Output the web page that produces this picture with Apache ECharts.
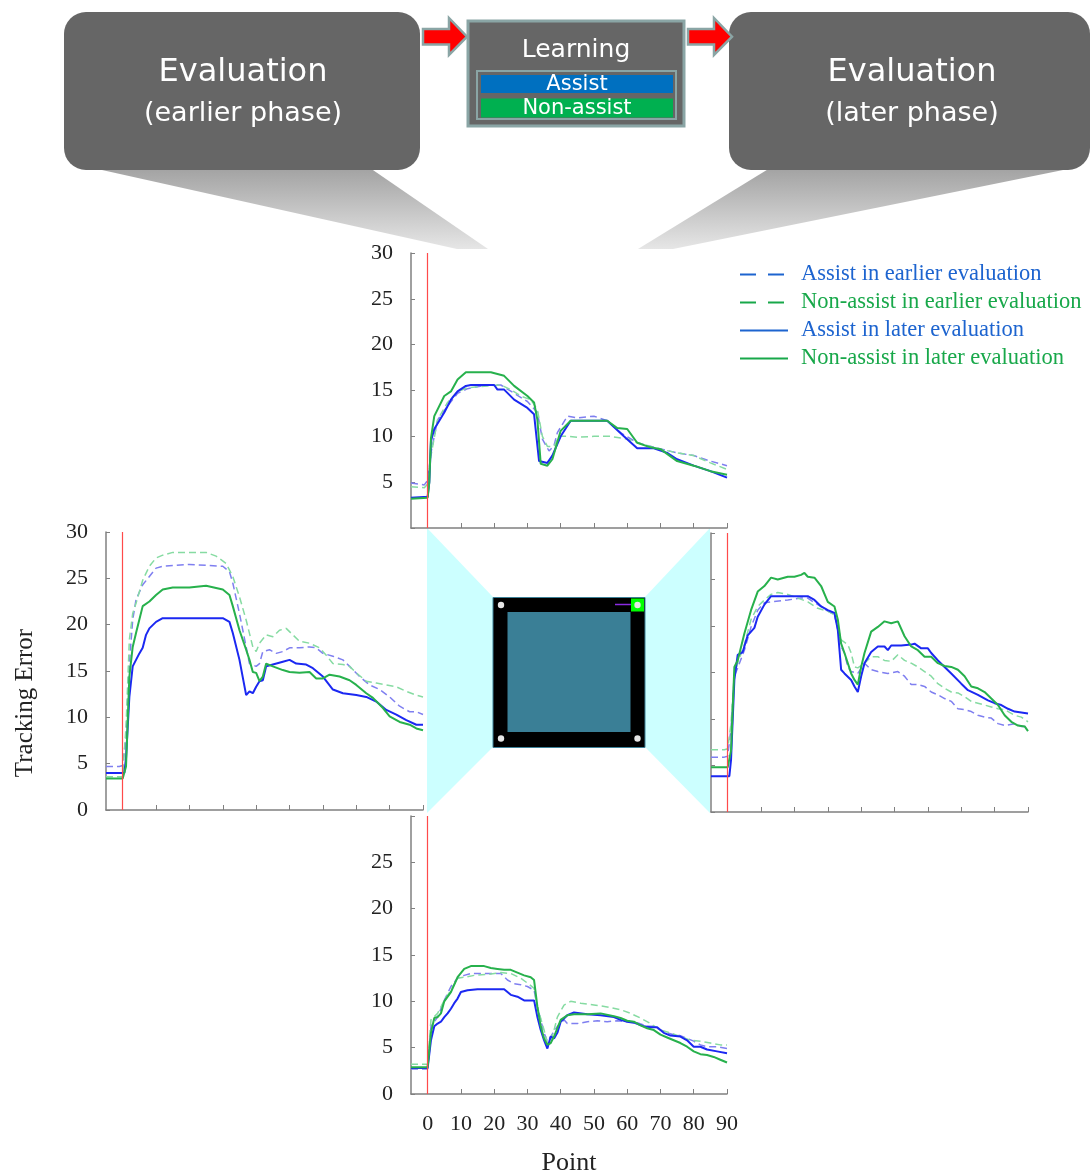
<!DOCTYPE html>
<html>
<head>
<meta charset="utf-8">
<script src="https://cdn.jsdelivr.net/npm/echarts@6.0.0/dist/echarts.min.js"></script>
<style>
  html, body { margin: 0; padding: 0; background: #fff; }
  #main { width: 1090px; height: 1173px; }
</style>
</head>
<body>
<div id="main"></div>
<script>
// x ticks / labels
const xTickValues = [0, 10, 20, 30, 40, 50, 60, 70, 80, 90];
const yTickValues = [0, 5, 10, 15, 20, 25, 30];
const seriesNames = [
  'Assist in earlier evaluation',
  'Non-assist in earlier evaluation',
  'Assist in later evaluation',
  'Non-assist in later evaluation'
];

// ---- top chart ----
const topAssistEarly = [[-5,4.9],[-1,4.7],[0,5.2],[1,8.2],[3,11.8],[6,13.3],[9,14.7],[12,15.2],[18,15.6],[22,15.6],[26,14.7],[30,13.8],[33,12.6],[34.5,9.7],[36.5,8.4],[38,9.0],[39,10.4],[42,12.2],[45,12.0],[50,12.2],[54,11.7],[58,10.4],[63,9.3],[68,8.8],[75,8.2],[80,7.9],[85,7.3],[90,6.8]];
const topNonAssistEarly = [[-5,4.5],[-1,4.4],[0,4.8],[1,7.9],[3,11.8],[6,13.7],[9,14.9],[12,15.3],[18,15.5],[22,15.6],[25,15.1],[28,14.4],[31,14.0],[33,12.9],[34.5,10.0],[36,8.9],[38,8.9],[39.5,10.0],[42,10.0],[45,9.9],[50,10.0],[55,10.0],[60,9.7],[65,9.1],[70,8.6],[75,8.2],[80,7.9],[85,7.1],[90,6.4]];
const topAssistLate = [[-5,3.3],[0,3.4],[0.5,5.0],[1,9.5],[2,10.8],[5,12.6],[7,14.0],[9,14.9],[11.5,15.5],[13,15.6],[20,15.6],[21,15.1],[23,15.1],[26,14.0],[30,13.1],[32,12.4],[33.5,7.3],[36,7.1],[37.5,7.9],[40,10.0],[43,11.7],[54,11.7],[59,10.0],[63,8.7],[68,8.7],[72,8.2],[75,7.5],[80,6.8],[85,6.2],[90,5.5]];
const topNonAssistLate = [[-5,3.2],[0,3.3],[0.5,5.0],[1,9.8],[2,12.2],[5,14.4],[7,14.9],[9,16.2],[11.5,17.0],[19,17.0],[23,16.6],[26,15.5],[30,14.4],[32,13.7],[33,11.8],[34,7.0],[36,6.8],[37.5,7.5],[40,10.6],[43,11.7],[54,11.7],[57,10.9],[60,10.8],[63,9.3],[67,8.8],[70,8.6],[75,7.3],[80,6.8],[85,6.2],[90,5.8]];

// ---- left chart ----
const leftAssistEarly = [[-5,4.7],[-1,4.7],[0,4.8],[1,8.0],[2,15.8],[3,20.5],[4,22.7],[6,24.3],[8,25.2],[10,26.1],[12,26.3],[20,26.5],[25,26.4],[30,26.3],[32,25.7],[33,24.5],[35,21.2],[37,17.6],[38,15.8],[40,15.5],[41,15.8],[42,17.1],[44,17.3],[46,16.9],[48,17.1],[50,17.5],[53,17.5],[56,17.6],[58,17.5],[60,16.9],[63,16.6],[66,16.2],[68,15.5],[71,14.4],[74,13.5],[77,13.0],[80,12.2],[83,11.2],[86,10.6],[88,10.6],[90,10.3]];
const leftNonAssistEarly = [[-5,3.6],[0,3.6],[1,9.0],[2,18.4],[3,21.2],[4,22.3],[6,24.8],[8,26.3],[10,27.2],[12,27.5],[15,27.8],[25,27.8],[28,27.4],[31,26.6],[33,25.2],[35,23.0],[37,20.5],[39,17.6],[40,17.1],[41,18.0],[43,18.9],[45,18.7],[47,19.4],[49,19.6],[51,18.9],[53,18.2],[56,18.0],[59,17.5],[61,16.7],[63,15.8],[66,15.7],[68,15.5],[70,14.8],[73,13.9],[76,13.7],[79,13.5],[82,13.3],[85,12.8],[88,12.4],[90,12.2]];
const leftAssistLate = [[-5,4.0],[0.5,4.0],[1,5.6],[2,12.2],[3,15.5],[5,16.9],[6,17.5],[7,18.9],[8,19.6],[10,20.3],[12,20.7],[30,20.7],[32,20.3],[33,19.1],[35,16.2],[37,12.4],[38,12.8],[39,12.6],[40,13.3],[41,13.9],[42,14.0],[43,15.5],[45,15.7],[48,16.0],[50,16.2],[52,15.8],[55,15.7],[57,15.3],[60,14.4],[63,13.0],[66,12.6],[70,12.4],[73,12.2],[76,11.7],[79,10.8],[82,10.3],[85,9.7],[88,9.2],[90,9.2]];
const leftNonAssistLate = [[-5,3.4],[0,3.4],[1,4.7],[2,14.4],[3,17.6],[4,19.1],[6,22.0],[8,22.5],[10,23.2],[12,23.8],[15,24.0],[20,24.0],[25,24.2],[30,23.8],[32,23.2],[33,22.0],[35,19.4],[37,17.3],[38,16.2],[39,14.9],[40,14.8],[41,13.9],[42,14.4],[43,15.8],[45,15.5],[48,15.1],[50,14.9],[53,14.8],[56,14.9],[58,14.2],[60,14.2],[62,14.6],[65,14.4],[68,14.0],[70,13.5],[73,12.6],[75,12.1],[78,11.0],[80,10.1],[83,9.5],[86,9.2],[88,8.8],[90,8.6]];

// ---- right chart ----
const rightAssistEarly = [[-5,5.9],[-1,5.9],[0,6.0],[1,9.0],[2,14.6],[3,15.5],[5,17.4],[7,19.9],[9,21.7],[11,22.5],[13,22.6],[18,22.8],[22,23.0],[24,23.0],[26,22.5],[28,22.1],[30,21.6],[32,21.2],[33,19.6],[34,17.8],[35,17.1],[36,15.6],[37,15.1],[39,14.9],[41,16.0],[43,15.3],[45,15.1],[48,14.9],[51,15.1],[53,14.6],[55,13.7],[57,13.7],[59,13.5],[61,12.9],[63,12.6],[65,12.2],[67,11.9],[69,11.1],[71,11.0],[73,10.8],[75,10.4],[77,10.2],[79,10.1],[81,9.5],[83,9.3],[86,9.5],[88,9.2],[90,9.2]];
const rightNonAssistEarly = [[-5,6.7],[-1,6.7],[0,6.8],[1,9.5],[2,14.9],[3,16.0],[5,18.0],[7,20.7],[9,22.1],[11,22.8],[13,23.4],[15,23.6],[18,23.4],[21,23.0],[24,22.6],[27,21.9],[30,21.6],[32,21.2],[33,19.9],[34,18.5],[36,18.0],[37,17.1],[38,15.6],[39,15.5],[41,16.0],[43,16.7],[45,16.7],[47,16.3],[49,16.2],[51,16.9],[53,16.3],[55,16.0],[57,15.6],[59,15.1],[61,14.6],[63,13.8],[65,13.3],[67,12.9],[69,12.8],[71,12.4],[73,11.9],[75,11.7],[77,11.5],[79,11.3],[81,11.1],[83,11.0],[86,10.4],[88,10.2],[90,9.7]];
const rightAssistLate = [[-5,3.85],[0.5,3.85],[1,5.6],[2,14.2],[3,16.9],[4.5,17.2],[6,19.0],[8,19.8],[9,21.0],[11,22.3],[13,23.2],[24,23.2],[26,22.8],[28,22.1],[30,21.7],[32,21.4],[33,19.6],[34,15.3],[35,14.9],[37,14.2],[38,13.5],[39,12.9],[40,14.6],[41,16.0],[43,17.2],[45,17.8],[47,17.8],[48,17.4],[49,17.9],[52,17.9],[55,18.0],[56,18.1],[58,17.6],[60,17.6],[61,17.1],[63,16.3],[65,15.6],[67,14.9],[70,13.8],[72,13.1],[75,12.6],[78,12.0],[80,11.7],[82,11.5],[84,11.1],[86,10.8],[88,10.7],[90,10.6]];
const rightNonAssistLate = [[-5,4.8],[0,4.8],[1,6.6],[2,15.6],[3,16.3],[5,19.2],[7,21.7],[9,23.7],[11,24.3],[13,25.2],[15,25.0],[18,25.3],[20,25.3],[22,25.5],[23,25.7],[24,25.3],[26,25.2],[28,24.3],[30,22.6],[32,22.1],[33,20.7],[34,18.1],[35,17.1],[37,14.9],[38,14.2],[39,13.7],[40,15.6],[41,17.1],[43,19.4],[45,19.9],[47,20.5],[49,20.3],[51,20.5],[53,18.9],[55,17.8],[57,17.4],[59,16.7],[61,16.7],[63,16.0],[65,15.7],[67,15.6],[69,15.3],[71,14.6],[73,13.5],[75,13.3],[77,12.9],[79,12.2],[81,11.5],[83,10.4],[85,9.7],[87,9.3],[89,9.2],[90,8.7]];

// ---- bottom chart ----
const bottomAssistEarly = [[-5,2.7],[0,2.7],[1,7.3],[3,8.3],[5,10.1],[7,11.6],[9,12.5],[11,12.8],[13,13.0],[22,13.0],[24,12.3],[26,11.9],[28,11.8],[30,11.6],[32,11.2],[33,9.4],[35,6.6],[36,5.7],[37,6.2],[39,7.3],[41,8.0],[42,7.6],[45,7.6],[48,7.8],[51,7.9],[54,7.8],[57,7.9],[60,7.8],[63,7.7],[66,7.3],[68,7.3],[70,6.9],[72,6.6],[74,6.4],[76,6.3],[78,6.0],[80,5.7],[82,5.3],[84,5.1],[87,5.1],[90,4.9]];
const bottomNonAssistEarly = [[-5,3.2],[0,3.2],[1,8.0],[3,8.7],[5,10.1],[7,11.2],[9,12.5],[11,12.6],[14,12.8],[18,12.9],[22,13.1],[25,13.0],[28,12.5],[31,11.7],[32,11.4],[33,9.4],[35,6.9],[36,5.5],[37,5.8],[38,6.9],[39,8.3],[41,9.6],[43,10.0],[46,9.8],[50,9.6],[54,9.4],[58,9.1],[61,8.7],[64,8.2],[67,7.6],[70,6.9],[73,6.6],[76,6.2],[79,5.8],[82,5.7],[85,5.5],[88,5.3],[90,5.3]];
const bottomAssistLate = [[-5,2.8],[0,2.8],[1,5.8],[2,7.3],[3,7.6],[4,7.8],[5,8.3],[6,8.7],[7,9.2],[8,9.8],[9,10.3],[10,11.0],[12,11.2],[15,11.3],[23,11.3],[25,10.7],[27,10.5],[29,10.1],[32,10.1],[33,8.3],[34,6.9],[35,5.8],[36,4.9],[37,6.2],[38,6.0],[39,6.6],[40,7.8],[42,8.5],[44,8.8],[48,8.6],[52,8.5],[56,8.3],[58,8.0],[60,7.8],[62,7.7],[65,7.3],[67,7.2],[69,7.2],[71,6.6],[73,6.3],[76,6.2],[78,5.8],[80,5.1],[82,5.1],[84,4.8],[87,4.6],[90,4.4]];
const bottomNonAssistLate = [[-5,2.9],[0,2.9],[1,6.6],[2,8.2],[3,8.3],[4,8.7],[5,10.0],[7,11.0],[9,12.6],[11,13.5],[13,13.8],[17,13.8],[19,13.6],[21,13.5],[23,13.4],[25,13.4],[27,13.1],[29,12.8],[31,12.6],[32,12.3],[33,9.4],[34,7.3],[35,6.0],[36,5.3],[37,5.5],[38,6.2],[40,8.0],[42,8.5],[44,8.6],[48,8.6],[52,8.7],[56,8.4],[58,8.2],[60,7.9],[62,7.8],[64,7.4],[66,7.1],[68,6.9],[70,6.4],[72,6.1],[74,5.8],[76,5.5],[78,5.1],[80,4.6],[82,4.3],[84,4.2],[86,4.0],[88,3.7],[90,3.4]];

let chart = echarts.init(document.getElementById('main'));

const serif = '"Liberation Serif", "Times New Roman", serif';
const sans = '"DejaVu Sans", sans-serif';

// one entry per small chart
const panels = [
  {grid: {left: 411, top: 253, width: 316, height: 275}, lines: [topAssistEarly, topNonAssistEarly, topAssistLate, topNonAssistLate], yLabels: [5, 10, 15, 20, 25, 30], xLabels: false},
  {grid: {left: 106, top: 532, width: 317, height: 278}, lines: [leftAssistEarly, leftNonAssistEarly, leftAssistLate, leftNonAssistLate], yLabels: yTickValues, xLabels: false},
  {grid: {left: 711, top: 533, width: 317, height: 279}, lines: [rightAssistEarly, rightNonAssistEarly, rightAssistLate, rightNonAssistLate], yLabels: null, xLabels: false},
  {grid: {left: 411, top: 816, width: 316, height: 278}, lines: [bottomAssistEarly, bottomNonAssistEarly, bottomAssistLate, bottomNonAssistLate], yLabels: [0, 5, 10, 15, 20, 25], xLabels: true}
];

const lineLook = [
  {color: '#7f7ff0', type: [7, 4], width: 1.5},
  {color: '#86dba2', type: [7, 4], width: 1.5},
  {color: '#1b28f2', type: 'solid', width: 2},
  {color: '#27b14c', type: 'solid', width: 2}
];

const grids = [], xAxes = [], yAxes = [], series = [];
panels.forEach((p, i) => {
  grids.push(Object.assign({outerBoundsMode: 'none', containLabel: false}, p.grid));
  xAxes.push({
    type: 'value',
    gridIndex: i,
    min: -5,
    max: 90,
    interval: 5,
    splitLine: {show: false},
    axisLine: {show: true, onZero: false, lineStyle: {color: '#808080', width: 1.5}},
    axisTick: {show: true, inside: true, length: 5, customValues: xTickValues, lineStyle: {color: '#808080'}},
    axisLabel: {
      show: p.xLabels,
      customValues: xTickValues,
      margin: 19,
      color: '#222',
      fontFamily: serif,
      fontSize: 22
    },
    name: p.xLabels ? 'Point' : '',
    nameLocation: 'middle',
    nameGap: 56,
    nameTextStyle: {color: '#222', fontFamily: serif, fontSize: 26}
  });
  yAxes.push({
    type: 'value',
    gridIndex: i,
    min: 0,
    max: 30,
    interval: 5,
    splitLine: {show: false},
    axisLine: {show: true, onZero: false, lineStyle: {color: '#808080', width: 1.5}},
    axisTick: {show: true, inside: true, length: 4, lineStyle: {color: '#808080'}},
    axisLabel: {
      show: !!p.yLabels,
      customValues: p.yLabels || yTickValues,
      margin: 18,
      color: '#222',
      fontFamily: serif,
      fontSize: 22
    }
  });
  p.lines.forEach((d, k) => {
    const s = {
      name: seriesNames[k],
      type: 'line',
      xAxisIndex: i,
      yAxisIndex: i,
      data: d,
      symbol: 'none',
      animation: false,
      z: k < 2 ? 2 : 3,
      itemStyle: {color: lineLook[k].color},
      lineStyle: {color: lineLook[k].color, type: lineLook[k].type, width: lineLook[k].width}
    };
    if (k === 3) {
      // red marker at point 0
      s.markLine = {
        silent: true,
        symbol: 'none',
        z: 5,
        label: {show: false},
        lineStyle: {color: '#ff4a4a', type: 'solid', width: 1.2, opacity: 1},
        data: [{xAxis: 0}]
      };
    }
    series.push(s);
  });
});

const legendColors = ['#1d64cf', '#18a84a', '#1d64cf', '#18a84a'];

const tailFill = new echarts.graphic.LinearGradient(0, 0, 0, 1, [
  {offset: 0, color: '#a2a2a2'},
  {offset: 1, color: '#e6e6e6'}
]);

function txt(text, x, y, size, font) {
  return {
    type: 'text',
    z: 10,
    style: {
      text: text, x: x, y: y,
      fill: '#fff',
      font: size + 'px ' + (font || sans),
      textAlign: 'center', textVerticalAlign: 'middle',
      align: 'center', verticalAlign: 'middle'
    }
  };
}

const graphics = [
  // callout tails
  {type: 'polygon', z: 1, shape: {points: [[93, 168], [370, 168], [488, 249], [457, 249]]}, style: {fill: tailFill}},
  {type: 'polygon', z: 1, shape: {points: [[770, 168], [1073, 168], [673, 249], [638, 249]]}, style: {fill: tailFill}},
  // evaluation boxes
  {type: 'rect', z: 2, shape: {x: 64, y: 12, width: 356, height: 158, r: 22}, style: {fill: '#666666'}},
  {type: 'rect', z: 2, shape: {x: 729, y: 12, width: 361, height: 158, r: 22}, style: {fill: '#666666'}},
  txt('Evaluation', 243, 73, 32),
  txt('(earlier phase)', 243, 114, 27),
  txt('Evaluation', 912, 73, 32),
  txt('(later phase)', 912, 114, 27),
  // learning box
  {type: 'rect', z: 2, shape: {x: 468, y: 21, width: 216, height: 105}, style: {fill: '#666666', stroke: '#8aa5a5', lineWidth: 3}},
  txt('Learning', 576, 50, 25),
  {type: 'rect', z: 3, shape: {x: 477, y: 71, width: 199, height: 48}, style: {fill: '#666666', stroke: '#8aa5a5', lineWidth: 2}},
  {type: 'rect', z: 4, shape: {x: 481, y: 75, width: 192, height: 18}, style: {fill: '#0070c0'}},
  {type: 'rect', z: 4, shape: {x: 481, y: 98.5, width: 192, height: 19}, style: {fill: '#00b050'}},
  txt('Assist', 577, 84.5, 21),
  txt('Non-assist', 577, 108.5, 21),
  // arrows
  {type: 'polygon', z: 3, shape: {points: [[423, 29], [449, 29], [449, 18], [467, 36.7], [449, 55], [449, 44.5], [423, 44.5]]}, style: {fill: '#ff0000', stroke: '#8aa5a5', lineWidth: 2.5}},
  {type: 'polygon', z: 3, shape: {points: [[688, 29], [714, 29], [714, 18], [732, 36.7], [714, 55], [714, 44.5], [688, 44.5]]}, style: {fill: '#ff0000', stroke: '#8aa5a5', lineWidth: 2.5}},
  // centre: screen view
  {type: 'polygon', z: 0, shape: {points: [[427, 528], [493, 597], [493, 747], [427, 813]]}, style: {fill: '#ccffff'}},
  {type: 'polygon', z: 0, shape: {points: [[710, 528], [645, 597], [645, 747], [710, 813]]}, style: {fill: '#ccffff'}},
  {type: 'rect', z: 2, shape: {x: 493, y: 597.5, width: 152, height: 150}, style: {fill: '#000', stroke: '#3c8096', lineWidth: 1}},
  {type: 'rect', z: 3, shape: {x: 507.5, y: 612, width: 123, height: 120}, style: {fill: '#3a7f96'}},
  {type: 'rect', z: 3, shape: {x: 631, y: 598.5, width: 13, height: 13}, style: {fill: '#00ff00'}},
  {type: 'line', z: 4, shape: {x1: 615, y1: 604.5, x2: 631, y2: 604.5}, style: {stroke: '#8a2be2', lineWidth: 1.5}},
  {type: 'circle', z: 4, shape: {cx: 501, cy: 605, r: 3.2}, style: {fill: '#e6e6e6'}},
  {type: 'circle', z: 4, shape: {cx: 637.5, cy: 605, r: 3.2}, style: {fill: '#e6e6e6'}},
  {type: 'circle', z: 4, shape: {cx: 501, cy: 738.5, r: 3.2}, style: {fill: '#e6e6e6'}},
  {type: 'circle', z: 4, shape: {cx: 637.5, cy: 738.5, r: 3.2}, style: {fill: '#e6e6e6'}},
  // y title
  {
    type: 'text', z: 10, x: 25, y: 703, rotation: Math.PI / 2,
    style: {
      text: 'Tracking Error', fill: '#222', font: '25px ' + serif,
      textAlign: 'center', textVerticalAlign: 'middle', align: 'center', verticalAlign: 'middle'
    }
  }
];

const legendData = seriesNames.map((n, k) => ({
  name: n,
  textStyle: {color: legendColors[k], padding: [0, 0, 0, 8]},
  itemStyle: {color: 'transparent', borderColor: 'transparent', borderWidth: 0, opacity: 0},
  lineStyle: {color: legendColors[k], type: k < 2 ? [16, 12] : 'solid', width: 2, opacity: 1}
}));

const option = {
  backgroundColor: '#fff',
  animation: false,
  legend: {
    orient: 'vertical',
    left: 734,
    top: 258,
    itemWidth: 48,
    itemHeight: 12,
    itemGap: 5,
    selectedMode: false,
    textStyle: {fontFamily: serif, fontSize: 22.5},
    data: legendData
  },
  grid: grids,
  xAxis: xAxes,
  yAxis: yAxes,
  series: series,
  graphic: graphics
};

chart.setOption(option);
</script>
</body>
</html>
